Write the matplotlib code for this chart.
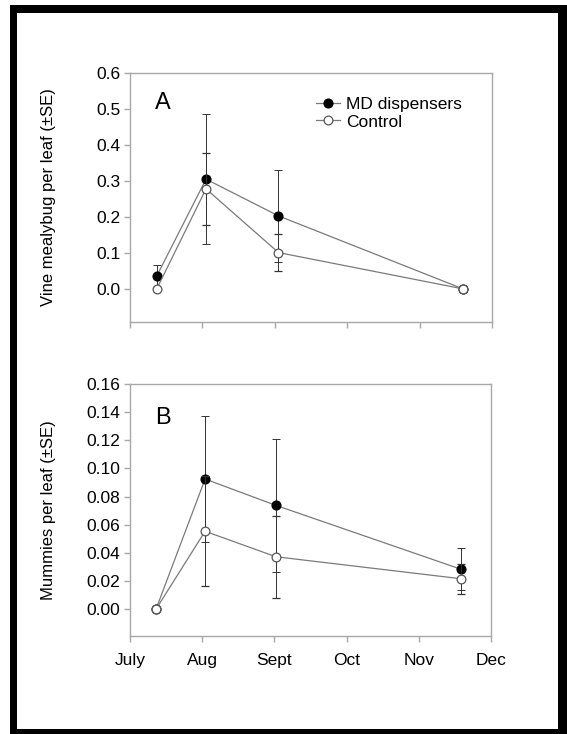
import matplotlib
matplotlib.use('Agg')
import matplotlib.pyplot as plt
from matplotlib.patches import Rectangle
from matplotlib.lines import Line2D
import numpy as np

plt.rcParams['font.family'] = ['Liberation Sans', 'DejaVu Sans']

# months after July 1 (July=0 ... Dec=5)
months = ['July', 'Aug', 'Sept', 'Oct', 'Nov', 'Dec']
x_a = [0.37, 1.05, 2.05, 4.6]
x_b = [0.36, 1.04, 2.02, 4.58]

# panel A: vine mealybug per leaf
md_a = [0.036, 0.305, 0.203, 0.0]
md_a_se = [0.030, 0.180, 0.127, 0.0]
ctl_a = [0.0, 0.278, 0.101, 0.0]
ctl_a_se = [0.0, 0.100, 0.052, 0.0]

# panel B: mummies per leaf
md_b = [0.0, 0.0925, 0.0738, 0.0285]
md_b_se = [0.0, 0.045, 0.047, 0.0147]
ctl_b = [0.0, 0.0554, 0.0373, 0.0217]
ctl_b_se = [0.0, 0.039, 0.029, 0.0107]

W, H = 567, 734
fig = plt.figure(figsize=(W / 100, H / 100), dpi=100)

def px(x0, y0, x1, y1):
    # pixel box (top-left origin) -> figure fraction [l, b, w, h]
    return [x0 / W, 1 - y1 / H, (x1 - x0) / W, (y1 - y0) / H]

# black frame
for box, col in [((10, 5, 567, 734), 'black'), ((17, 13, 558, 729), 'white')]:
    l, b, w, h = px(*box)
    fig.add_artist(Rectangle((l, b), w, h, transform=fig.transFigure,
                             facecolor=col, edgecolor='none', zorder=0))

ax1 = fig.add_axes(px(130, 73, 492, 322))
ax2 = fig.add_axes(px(130, 384, 491, 636))

line_c = '#7a7a7a'
spine_c = '#a8a8a8'
fs = 12.5
ms = 6.3

def draw(ax, x, md, md_se, ctl, ctl_se):
    ax.errorbar(x, md, yerr=md_se, color=line_c, lw=0.9, marker='o', ms=ms,
                mfc='black', mec='black', ecolor='#333333', elinewidth=0.7,
                capsize=3, capthick=0.7, zorder=3)
    ax.errorbar(x, ctl, yerr=ctl_se, color=line_c, lw=0.9, marker='o', ms=ms,
                mfc='white', mec='#555555', mew=0.9, ecolor='#333333', elinewidth=0.7,
                capsize=3, capthick=0.7, zorder=4)
    ax.set_xlim(0, 5)
    ax.set_xticks(range(6))
    for s in ax.spines.values():
        s.set_color(spine_c)
        s.set_linewidth(1.0)
    ax.tick_params(axis='both', colors=spine_c, length=4, width=1.0, labelcolor='black',
                   labelsize=fs, pad=3)

draw(ax1, x_a, md_a, md_a_se, ctl_a, ctl_a_se)
ax1.set_ylim(-0.092, 0.6)
ax1.set_yticks(np.arange(0, 0.61, 0.1))
ax1.set_yticklabels([f'{v:.1f}' for v in np.arange(0, 0.61, 0.1)])
ax1.set_xticklabels([])
ax1.set_ylabel('Vine mealybug per leaf (±SE)', fontsize=12)
ax1.yaxis.set_label_coords(-0.205, 0.5)
ax1.text(0.07, 0.88, 'A', transform=ax1.transAxes, fontsize=17, va='center', ha='left')
handles = [Line2D([], [], color=line_c, lw=0.9, marker='o', ms=ms, mfc='black', mec='black'),
           Line2D([], [], color=line_c, lw=0.9, marker='o', ms=ms, mfc='white', mec='#555555', mew=0.9)]
ax1.legend(handles, ['MD dispensers', 'Control'], loc='upper left', bbox_to_anchor=(0.515, 0.905),
           frameon=False, fontsize=fs, handlelength=1.35, handletextpad=0.35,
           labelspacing=0.15, borderpad=0, borderaxespad=0)

draw(ax2, x_b, md_b, md_b_se, ctl_b, ctl_b_se)
ax2.set_ylim(-0.019, 0.16)
ax2.set_yticks(np.arange(0, 0.161, 0.02))
ax2.set_yticklabels([f'{v:.2f}' for v in np.arange(0, 0.161, 0.02)])
ax2.set_xticklabels(months)
ax2.tick_params(axis='x', pad=8)
ax2.set_ylabel('Mummies per leaf (±SE)', fontsize=12)
ax2.yaxis.set_label_coords(-0.205, 0.5)
ax2.text(0.07, 0.865, 'B', transform=ax2.transAxes, fontsize=17, va='center', ha='left')

fig.savefig('out.png', dpi=100)
